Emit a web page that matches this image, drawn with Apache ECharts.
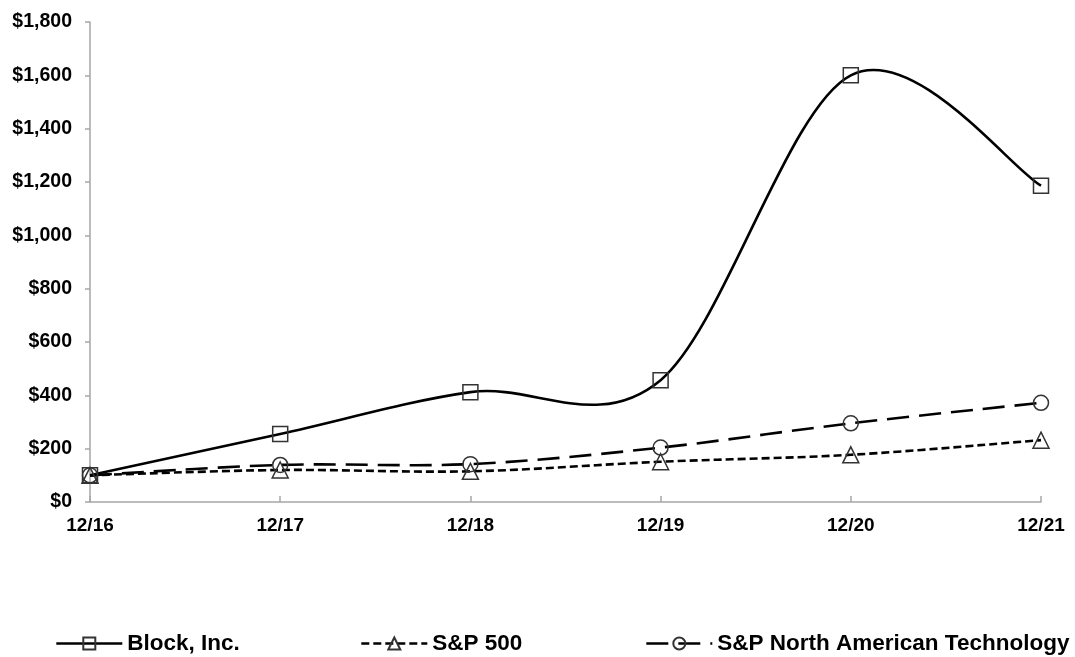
<!DOCTYPE html>
<html><head><meta charset="utf-8">
<script src="https://cdn.jsdelivr.net/npm/echarts@6/dist/echarts.min.js"></script>
<style>html,body{margin:0;padding:0;background:#fff}#c{width:1075px;height:657px}</style>
</head><body><div id="c"></div>
<script>
const categories = ['12/16','12/17','12/18','12/19','12/20','12/21'];
const blockValues = [100, 255, 412, 457, 1600, 1186];
const sp500Values = [100, 120, 115, 151, 177, 232];
const techValues = [100, 139, 142, 204, 295, 372];
const seriesNames = ['Block, Inc.', 'S&P 500', 'S&P North American Technology'];

const FONT = '"Liberation Sans", Arial, sans-serif';
const LINE_W = 2.6;
const dashes = { solid: null, short: [8, 4], long: [22, 10] };
const chart = echarts.init(document.getElementById('c'));

// Excel-style smoothed curve (Catmull-Rom → cubic Bézier), positions from the axes via api.coord
function curveSeries(values, dash) {
  return {
    type: 'custom', name: 'curve', silent: true, z: 2,
    data: values.map((v, i) => [i, v]),
    encode: { x: 0, y: 1 },
    renderItem: (params, api) => {
      if (params.dataIndex !== 0) return null;
      const P = values.map((v, i) => api.coord([i, v]));
      const n = P.length;
      const g = i => P[Math.max(0, Math.min(n - 1, i))];
      let d = 'M' + P[0][0] + ' ' + P[0][1];
      for (let i = 0; i < n - 1; i++) {
        const p0 = g(i - 1), p1 = g(i), p2 = g(i + 1), p3 = g(i + 2);
        const c1 = [p1[0] + (p2[0] - p0[0]) / 6, p1[1] + (p2[1] - p0[1]) / 6];
        const c2 = [p2[0] - (p3[0] - p1[0]) / 6, p2[1] - (p3[1] - p1[1]) / 6];
        d += ' C' + c1.join(' ') + ' ' + c2.join(' ') + ' ' + p2.join(' ');
      }
      return {
        type: 'path', shape: { pathData: d },
        style: { fill: null, stroke: '#000', lineWidth: LINE_W, lineDash: dash }
      };
    }
  };
}
const markerSeries = (name, data, symbol, size) => ({
  name, type: 'line', data, symbol, symbolSize: size, z: 3,
  lineStyle: { opacity: 0, width: 0 },
  itemStyle: { color: 'rgba(255,255,255,0)', borderColor: '#333', borderWidth: 1.5 },
  emphasis: { disabled: true }
});
const legendItem = (left, name, dash) => ({
  left, top: 632, padding: 0, itemWidth: 66, itemHeight: 15, selectedMode: false,
  textStyle: { fontFamily: FONT, fontWeight: 'bold', fontSize: 22.5, color: '#000' },
  data: [{ name, lineStyle: { color: '#000', width: LINE_W, opacity: 1, type: dash || 'solid' } }]
});

chart.setOption({
  animation: false,
  backgroundColor: '#fff',
  grid: { left: 90, right: 34, top: 22, bottom: 155 },
  xAxis: {
    type: 'category', data: categories, boundaryGap: false,
    axisLine: { lineStyle: { color: '#a6a6a6', width: 1.5 } },
    axisTick: { show: true, inside: true, length: 6, lineStyle: { color: '#a6a6a6', width: 1.5 } },
    axisLabel: { fontFamily: FONT, fontWeight: 'bold', fontSize: 19, color: '#000', margin: 14 }
  },
  yAxis: {
    type: 'value', min: 0, max: 1800, interval: 200,
    axisLine: { show: true, lineStyle: { color: '#a6a6a6', width: 1.5 } },
    axisTick: { show: true, length: 5, lineStyle: { color: '#a6a6a6', width: 1.5 } },
    splitLine: { show: false },
    axisLabel: { fontFamily: FONT, fontWeight: 'bold', fontSize: 19.5, color: '#000', margin: 18,
      formatter: v => '$' + v.toLocaleString('en-US') }
  },
  legend: [
    legendItem(55, seriesNames[0], dashes.solid),
    legendItem(360, seriesNames[1], dashes.short),
    legendItem(645, seriesNames[2], dashes.long)
  ],
  series: [
    curveSeries(blockValues, dashes.solid),
    curveSeries(sp500Values, dashes.short),
    curveSeries(techValues, dashes.long),
    markerSeries(seriesNames[0], blockValues, 'rect', 15),
    markerSeries(seriesNames[1], sp500Values, 'triangle', 16),
    markerSeries(seriesNames[2], techValues, 'circle', 15)
  ]
});
</script></body></html>
